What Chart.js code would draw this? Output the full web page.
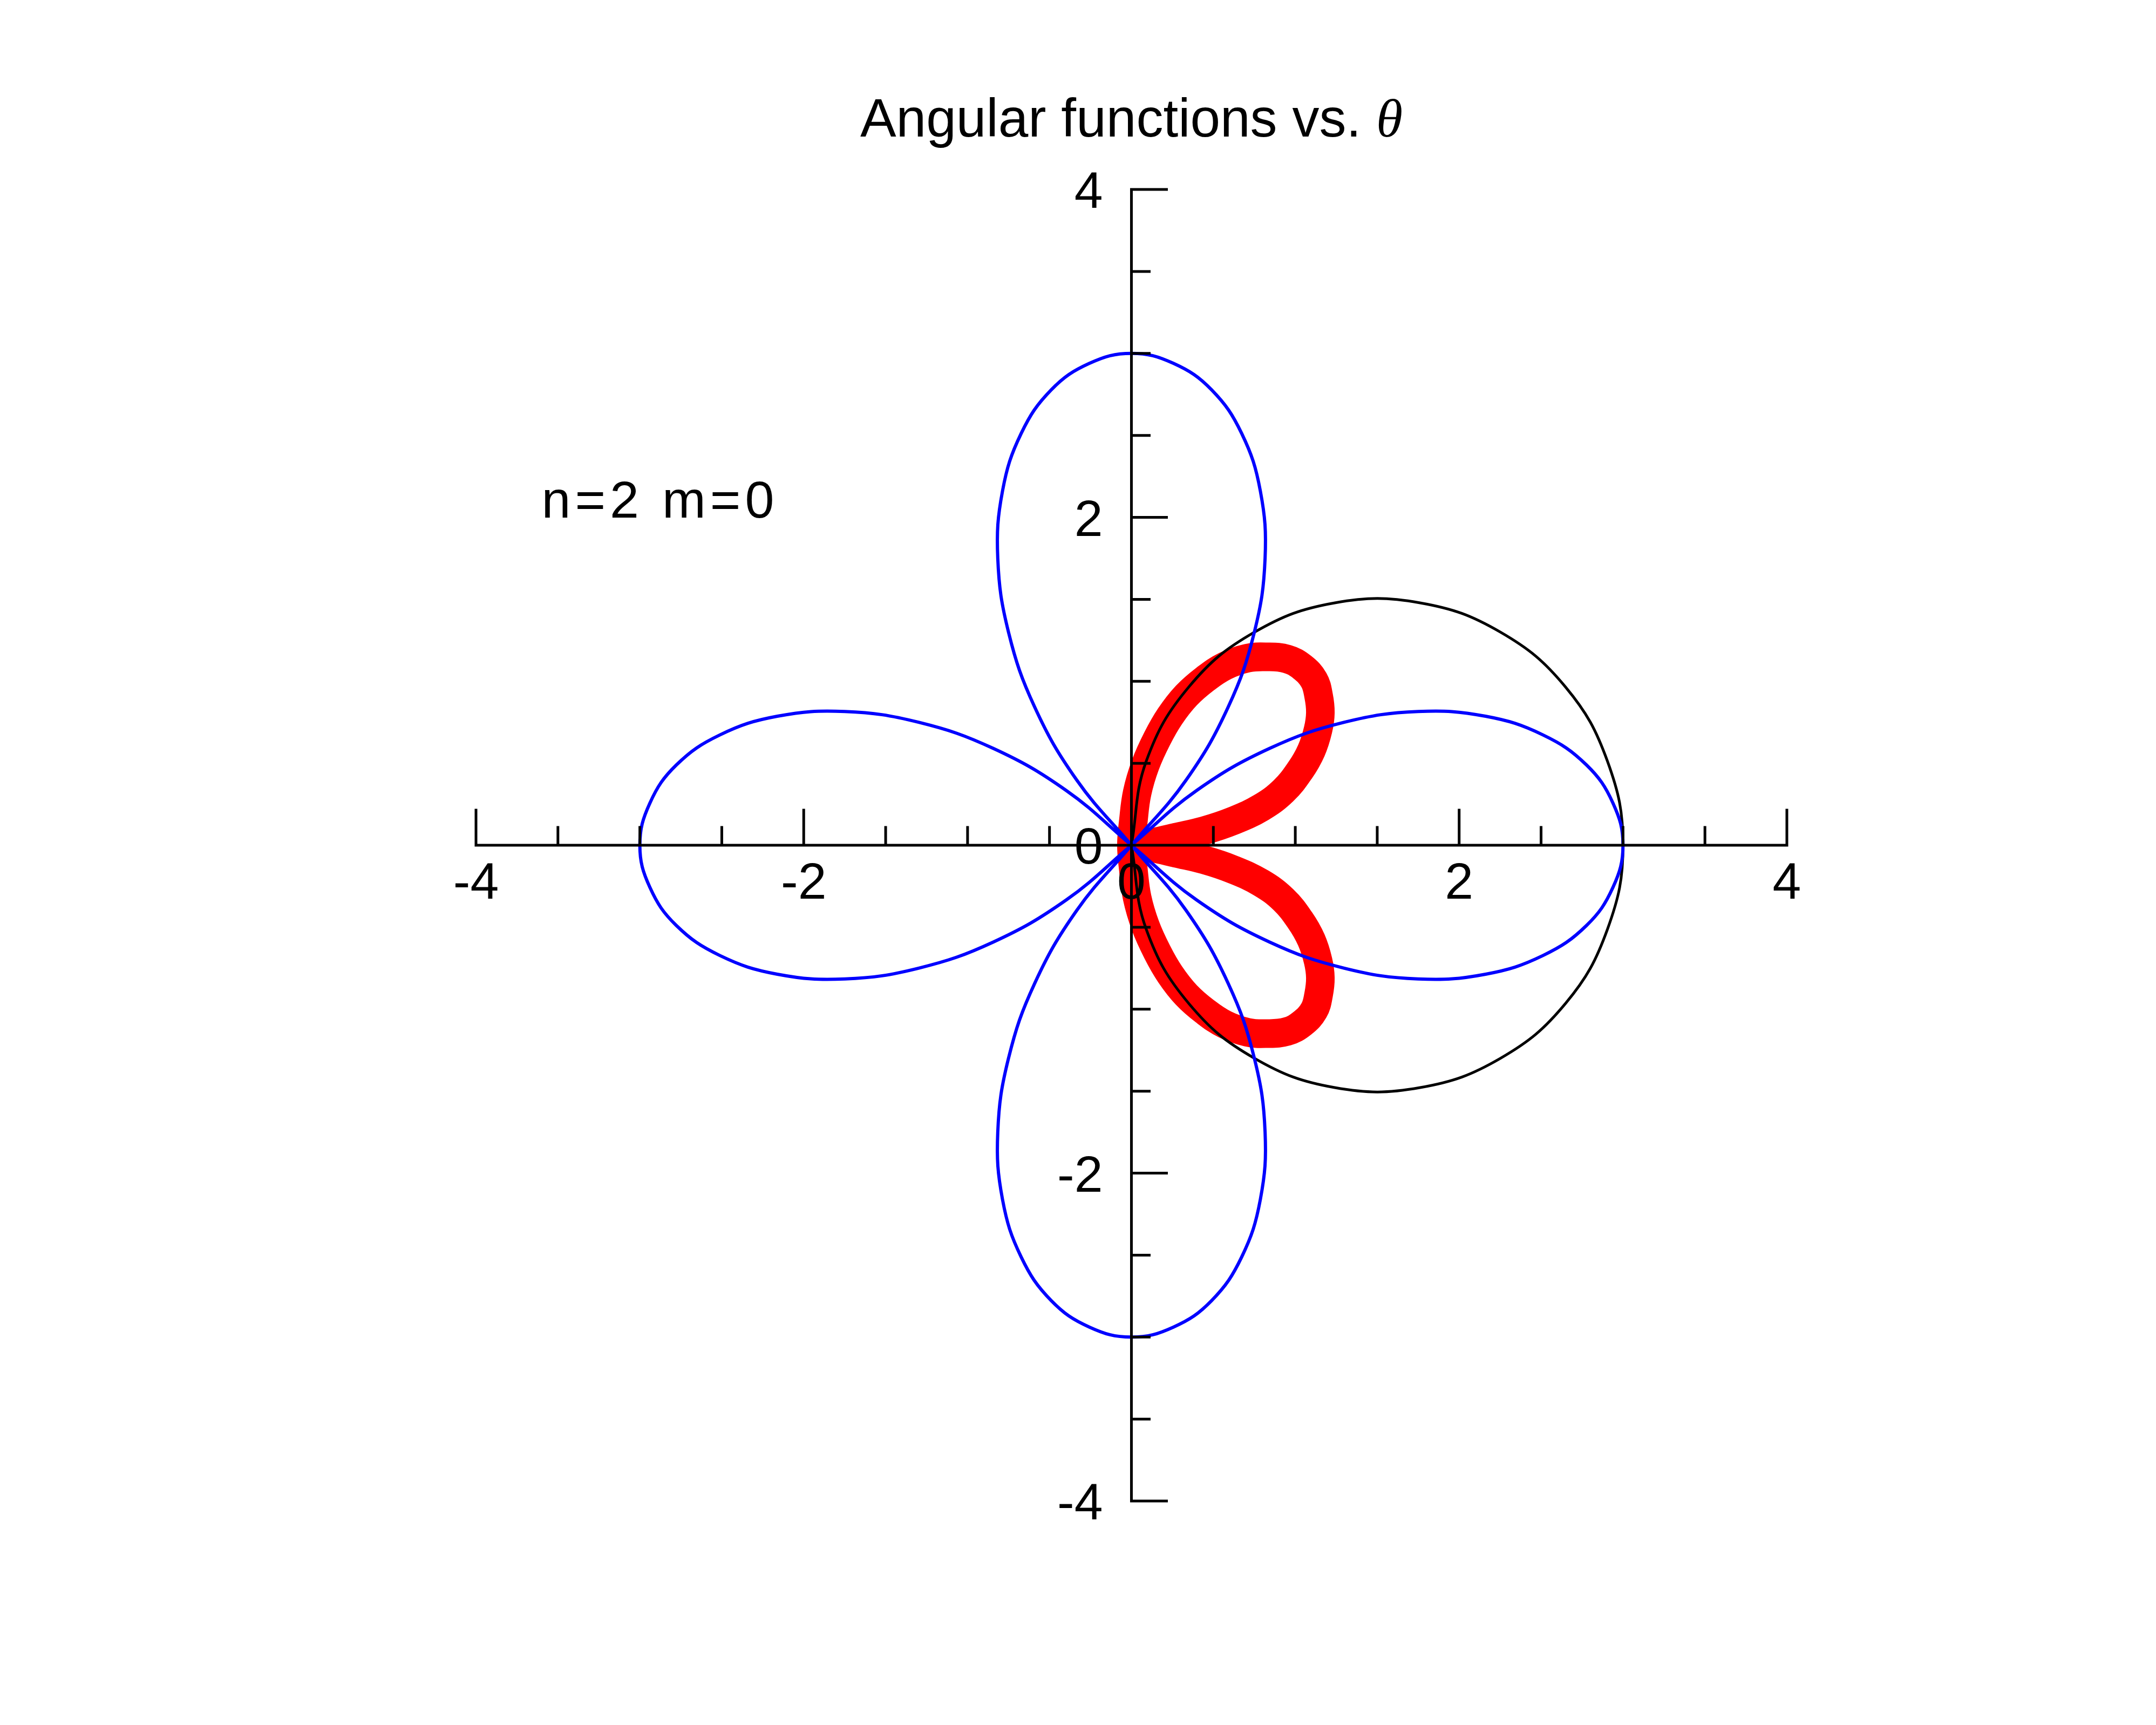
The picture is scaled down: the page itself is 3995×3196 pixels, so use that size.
<!DOCTYPE html>
<html>
<head>
<meta charset="utf-8">
<script src="https://cdn.jsdelivr.net/npm/chart.js@4.4.1/dist/chart.umd.min.js"></script>
<style>
  body { margin: 0; background: #fff; }
  canvas { display: block; }
</style>
</head>
<body>
<canvas id="myPolar" width="3995" height="3196"></canvas>
<script>
const titleText = 'Angular functions vs. ';
const titleSymbol = 'θ';
const noteText = 'n=2 m=0';
const notePos = [-3.6, 2.0];

const axisMin = -4;
const axisMax = 4;
const tickStep = 0.5;
const xTickValues = [-4, -2, 0, 2, 4];
const xTickLabels = ['-4', '-2', '0', '2', '4'];
const yTickValues = [-4, -2, 0, 2, 4];
const yTickLabels = ['-4', '-2', '0', '2', '4'];

// black circle: radius read at each angle (degrees)
const blackTheta = [-90, -80, -70, -60, -50, -40, -30, -20, -10, 0, 10, 20, 30, 40, 50, 60, 70, 80, 90];
const blackR = [0, 0.52, 1.03, 1.50, 1.93, 2.30, 2.60, 2.82, 2.95, 3.00, 2.95, 2.82, 2.60, 2.30, 1.93, 1.50, 1.03, 0.52, 0];

// blue four-leaf curve: radius read at each angle (degrees)
const blueTheta = [
    -45, -40, -35, -30, -25, -20, -15, -10, -5, 0, 5, 10, 15, 20, 25, 30, 35, 40, 45,
    50, 55, 60, 65, 70, 75, 80, 85, 90, 95, 100, 105, 110, 115, 120, 125, 130, 135,
    140, 145, 150, 155, 160, 165, 170, 175, 180, 185, 190, 195, 200, 205, 210, 215, 220, 225,
    230, 235, 240, 245, 250, 255, 260, 265, 270, 275, 280, 285, 290, 295, 300, 305, 310, 315
];
const blueR = [
    0, 0.52, 1.03, 1.50, 1.93, 2.30, 2.60, 2.82, 2.95, 3.00, 2.95, 2.82, 2.60, 2.30, 1.93, 1.50, 1.03, 0.52, 0,
    0.52, 1.03, 1.50, 1.93, 2.30, 2.60, 2.82, 2.95, 3.00, 2.95, 2.82, 2.60, 2.30, 1.93, 1.50, 1.03, 0.52, 0,
    0.52, 1.03, 1.50, 1.93, 2.30, 2.60, 2.82, 2.95, 3.00, 2.95, 2.82, 2.60, 2.30, 1.93, 1.50, 1.03, 0.52, 0,
    0.52, 1.03, 1.50, 1.93, 2.30, 2.60, 2.82, 2.95, 3.00, 2.95, 2.82, 2.60, 2.30, 1.93, 1.50, 1.03, 0.52, 0
];

// red thick curve, traced along the middle of the band (upper lobe, then lower lobe)
const redX = [
    0, 0.129, 0.272, 0.444, 0.619, 0.792, 0.928, 1.030, 1.098, 1.139, 1.153, 1.142, 1.114,
    1.043, 0.950, 0.823, 0.708, 0.571, 0.450, 0.335, 0.236, 0.157, 0.085, 0.035, 0.012, 0,
    0.012, 0.035, 0.085, 0.157, 0.236, 0.335, 0.450, 0.571, 0.708, 0.823, 0.950, 1.043,
    1.114, 1.142, 1.153, 1.139, 1.098, 1.030, 0.928, 0.792, 0.619, 0.444, 0.272, 0.129, 0
];
const redY = [
    0, 0.017, 0.049, 0.089, 0.148, 0.230, 0.332, 0.458, 0.578, 0.705, 0.809, 0.913, 1.007,
    1.086, 1.136, 1.149, 1.141, 1.093, 1.014, 0.913, 0.787, 0.650, 0.490, 0.320, 0.150, 0,
    -0.150, -0.320, -0.490, -0.650, -0.787, -0.913, -1.014, -1.093, -1.141, -1.149, -1.136, -1.086,
    -1.007, -0.913, -0.809, -0.705, -0.578, -0.458, -0.332, -0.230, -0.148, -0.089, -0.049, -0.017, 0
];

function polarPoints(theta, r) {
    const pts = [];
    for (let i = 0; i < theta.length; i++) {
        const a = theta[i] * Math.PI / 180;
        pts.push({x: r[i] * Math.cos(a), y: r[i] * Math.sin(a)});
        // each leaf closes at the origin, so break the line there
        if (r[i] === 0 && i > 0 && i < theta.length - 1) {
            pts.push({x: null, y: null});
            pts.push({x: 0, y: 0});
        }
    }
    return pts;
}

const crossAxes = {
    id: 'crossAxes',
    afterDatasetsDraw(chart) {
        const ctx = chart.ctx;
        const xs = chart.scales.x;
        const ys = chart.scales.y;
        const x0 = xs.getPixelForValue(0);
        const y0 = ys.getPixelForValue(0);

        ctx.save();
        ctx.strokeStyle = '#000';
        ctx.lineWidth = 5;
        ctx.lineCap = 'square';
        ctx.beginPath();
        ctx.moveTo(xs.getPixelForValue(axisMin), y0);
        ctx.lineTo(xs.getPixelForValue(axisMax), y0);
        ctx.moveTo(x0, ys.getPixelForValue(axisMin));
        ctx.lineTo(x0, ys.getPixelForValue(axisMax));
        for (let v = axisMin; v <= axisMax; v += tickStep) {
            const len = v % 2 === 0 ? 65 : 33;
            const px = xs.getPixelForValue(v);
            ctx.moveTo(px, y0);
            ctx.lineTo(px, y0 - len);
            const py = ys.getPixelForValue(v);
            ctx.moveTo(x0, py);
            ctx.lineTo(x0 + len, py);
        }
        ctx.stroke();

        ctx.fillStyle = '#000';
        ctx.font = '95px "Liberation Sans", Arial, sans-serif';
        ctx.textBaseline = 'alphabetic';
        ctx.textAlign = 'center';
        xTickValues.forEach((v, i) => ctx.fillText(xTickLabels[i], xs.getPixelForValue(v), y0 + 99));
        ctx.textAlign = 'right';
        yTickValues.forEach((v, i) => ctx.fillText(yTickLabels[i], x0 - 53, ys.getPixelForValue(v) + 34));

        // title, with the theta in an italic serif face
        const area = chart.chartArea;
        const cx = (area.left + area.right) / 2;
        const ty = area.top - 98;
        ctx.font = '100px "Liberation Sans", Arial, sans-serif';
        const w1 = ctx.measureText(titleText).width;
        ctx.font = 'italic 100px "Liberation Serif", "DejaVu Serif", serif';
        const w2 = ctx.measureText(titleSymbol).width;
        const sx = cx - (w1 + w2) / 2;
        ctx.textAlign = 'left';
        ctx.font = '100px "Liberation Sans", Arial, sans-serif';
        ctx.fillText(titleText, sx, ty);
        ctx.font = 'italic 100px "Liberation Serif", "DejaVu Serif", serif';
        ctx.fillText(titleSymbol, sx + w1, ty);

        ctx.font = '97px "Liberation Sans", Arial, sans-serif';
        ctx.letterSpacing = '8px';
        ctx.fillText(noteText, xs.getPixelForValue(notePos[0]), ys.getPixelForValue(notePos[1]));
        ctx.restore();
    }
};

new Chart(document.getElementById('myPolar'), {
    type: 'line',
    data: {
        datasets: [{
            label: 'blue',
            data: polarPoints(blueTheta, blueR),
            borderColor: '#0000ff',
            borderWidth: 6
        }, {
            label: 'black',
            data: polarPoints(blackTheta, blackR),
            borderColor: '#000000',
            borderWidth: 5
        }, {
            label: 'red',
            data: redX.map((x, i) => ({x: x, y: redY[i]})),
            borderColor: '#ff0000',
            borderWidth: 53,
            borderJoinStyle: 'round',
            borderCapStyle: 'round'
        }]
    },
    options: {
        responsive: false,
        animation: false,
        devicePixelRatio: 1,
        events: [],
        spanGaps: false,
        elements: {
            line: {tension: 0.4, fill: false},
            point: {radius: 0}
        },
        layout: {
            padding: {left: 882, right: 684, top: 351, bottom: 415}
        },
        plugins: {
            legend: {display: false},
            tooltip: {enabled: false},
            title: {display: false}
        },
        scales: {
            x: {type: 'linear', min: axisMin, max: axisMax, display: false},
            y: {type: 'linear', min: axisMin, max: axisMax, display: false}
        }
    },
    plugins: [crossAxes]
});
</script>
</body>
</html>
